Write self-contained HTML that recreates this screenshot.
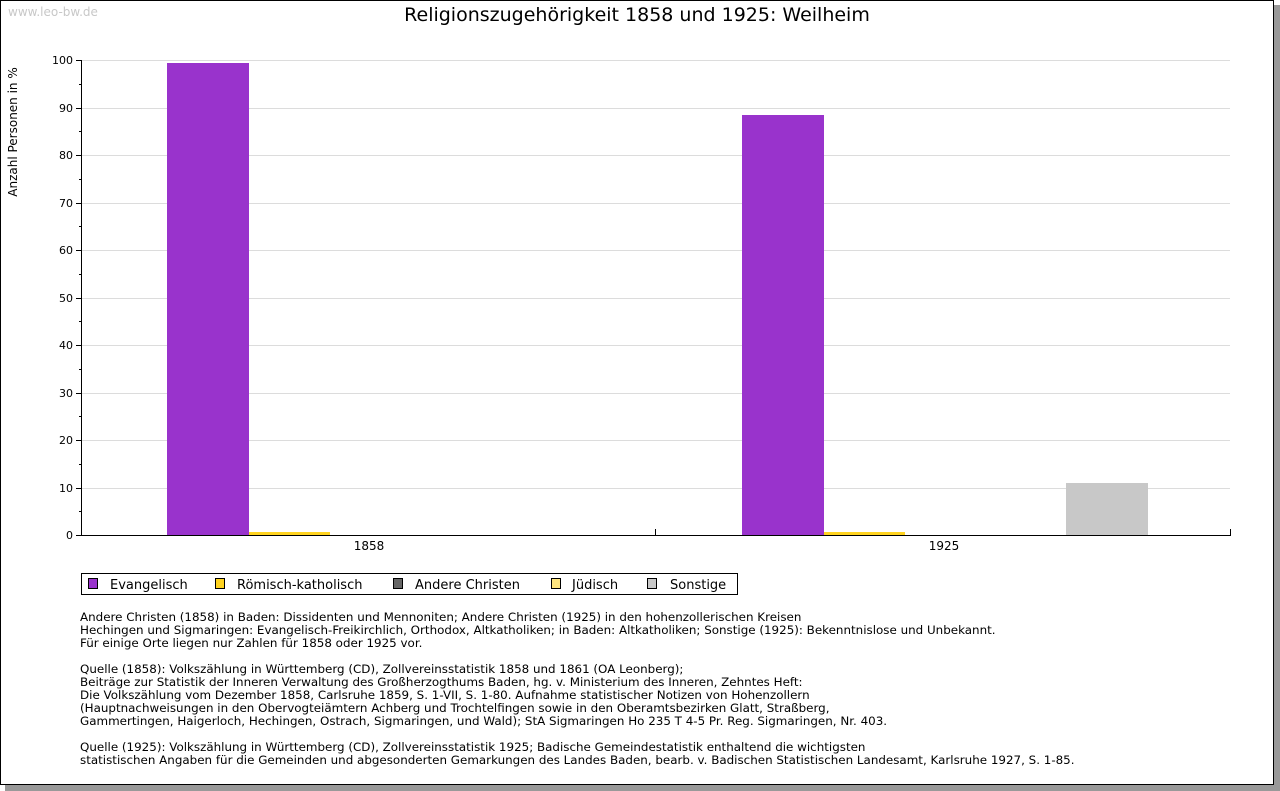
<!DOCTYPE html>
<html><head><meta charset="utf-8"><style>
body{margin:0;background:#fff;}
svg{display:block;font-family:"DejaVu Sans","Liberation Sans",sans-serif;}
</style></head><body>
<svg width="1280" height="791" xmlns="http://www.w3.org/2000/svg">
<rect x="5" y="5" width="1275" height="786" fill="#999"/>
<rect x="0.5" y="0.5" width="1273" height="784" fill="#fff" stroke="#000"/>
<text x="8" y="16" font-size="12" fill="#c8c8c8">www.leo-bw.de</text>
<text x="637" y="21" font-size="19" text-anchor="middle" fill="#000">Religionszugehörigkeit 1858 und 1925: Weilheim</text>
<text transform="translate(17,132) rotate(-90)" font-size="12" text-anchor="middle">Anzahl Personen in %</text>
<g stroke="#dcdcdc" stroke-width="1">
<line x1="82" y1="60.5" x2="1230" y2="60.5"/><line x1="82" y1="108.5" x2="1230" y2="108.5"/>
<line x1="82" y1="155.5" x2="1230" y2="155.5"/><line x1="82" y1="203.5" x2="1230" y2="203.5"/>
<line x1="82" y1="250.5" x2="1230" y2="250.5"/><line x1="82" y1="298.5" x2="1230" y2="298.5"/>
<line x1="82" y1="345.5" x2="1230" y2="345.5"/><line x1="82" y1="393.5" x2="1230" y2="393.5"/>
<line x1="82" y1="440.5" x2="1230" y2="440.5"/><line x1="82" y1="488.5" x2="1230" y2="488.5"/>
</g>
<rect x="167" y="63" width="82" height="472" fill="#9933cc"/>
<rect x="249" y="532" width="81" height="3" fill="#ffd320"/>
<rect x="742" y="115" width="82" height="420" fill="#9933cc"/>
<rect x="824" y="532" width="81" height="3" fill="#ffd320"/>
<rect x="1066" y="483" width="82" height="52" fill="#c8c8c8"/>
<g stroke="#000" stroke-width="1">
<line x1="81.5" y1="60" x2="81.5" y2="536"/>
<line x1="81" y1="535.5" x2="1231" y2="535.5"/>
<line x1="655.5" y1="535" x2="655.5" y2="529"/><line x1="1230.5" y1="535" x2="1230.5" y2="529"/>
<path d="M76 60.5h6M76 108.5h6M76 155.5h6M76 203.5h6M76 250.5h6M76 298.5h6M76 345.5h6M76 393.5h6M76 440.5h6M76 488.5h6M76 535.5h6"/>
<path d="M79 84.5h3M79 131.5h3M79 179.5h3M79 226.5h3M79 274.5h3M79 321.5h3M79 369.5h3M79 416.5h3M79 464.5h3M79 511.5h3"/>
</g>
<g font-size="11" text-anchor="end">
<text x="73" y="64">100</text><text x="73" y="112">90</text><text x="73" y="159">80</text>
<text x="73" y="207">70</text><text x="73" y="254">60</text><text x="73" y="302">50</text>
<text x="73" y="349">40</text><text x="73" y="397">30</text><text x="73" y="444">20</text>
<text x="73" y="492">10</text><text x="73" y="539">0</text>
</g>
<text x="369" y="550" font-size="12" text-anchor="middle">1858</text>
<text x="944" y="550" font-size="12" text-anchor="middle">1925</text>
<rect x="81.5" y="573.5" width="656" height="21" fill="#fff" stroke="#000"/>
<g stroke="#000" stroke-width="1">
<rect x="88.5" y="578.5" width="9" height="10" fill="#9933cc"/>
<rect x="215.5" y="578.5" width="9" height="10" fill="#ffd320"/>
<rect x="393.5" y="578.5" width="9" height="10" fill="#666"/>
<rect x="551.5" y="578.5" width="9" height="10" fill="#ffe680"/>
<rect x="647.5" y="578.5" width="9" height="10" fill="#c8c8c8"/>
</g>
<g font-size="13">
<text x="110" y="589">Evangelisch</text><text x="237" y="589">Römisch-katholisch</text>
<text x="415" y="589">Andere Christen</text><text x="572" y="589">Jüdisch</text><text x="670" y="589">Sonstige</text>
</g>
<g font-size="11.9">
<text x="80" y="621">Andere Christen (1858) in Baden: Dissidenten und Mennoniten; Andere Christen (1925) in den hohenzollerischen Kreisen</text>
<text x="80" y="634">Hechingen und Sigmaringen: Evangelisch-Freikirchlich, Orthodox, Altkatholiken; in Baden: Altkatholiken; Sonstige (1925): Bekenntnislose und Unbekannt.</text>
<text x="80" y="647">Für einige Orte liegen nur Zahlen für 1858 oder 1925 vor.</text>
<text x="80" y="673">Quelle (1858): Volkszählung in Württemberg (CD), Zollvereinsstatistik 1858 und 1861 (OA Leonberg);</text>
<text x="80" y="686">Beiträge zur Statistik der Inneren Verwaltung des Großherzogthums Baden, hg. v. Ministerium des Inneren, Zehntes Heft:</text>
<text x="80" y="699">Die Volkszählung vom Dezember 1858, Carlsruhe 1859, S. 1-VII, S. 1-80. Aufnahme statistischer Notizen von Hohenzollern</text>
<text x="80" y="712">(Hauptnachweisungen in den Obervogteiämtern Achberg und Trochtelfingen sowie in den Oberamtsbezirken Glatt, Straßberg,</text>
<text x="80" y="725">Gammertingen, Haigerloch, Hechingen, Ostrach, Sigmaringen, und Wald); StA Sigmaringen Ho 235 T 4-5 Pr. Reg. Sigmaringen, Nr. 403.</text>
<text x="80" y="751">Quelle (1925): Volkszählung in Württemberg (CD), Zollvereinsstatistik 1925; Badische Gemeindestatistik enthaltend die wichtigsten</text>
<text x="80" y="764">statistischen Angaben für die Gemeinden und abgesonderten Gemarkungen des Landes Baden, bearb. v. Badischen Statistischen Landesamt, Karlsruhe 1927, S. 1-85.</text>
</g>
</svg>
</body></html>
